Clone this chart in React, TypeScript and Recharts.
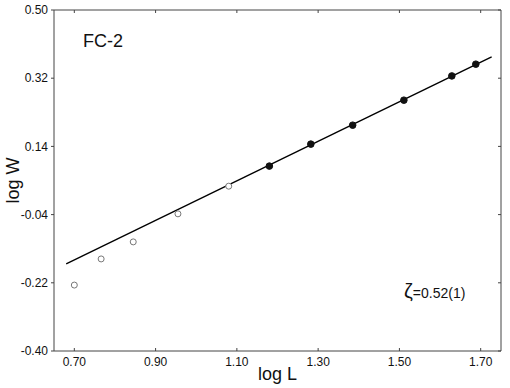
import { ScatterChart, Scatter, XAxis, YAxis } from 'recharts';

// open circles (small system sizes, excluded from fit)
const openLogL = [0.70, 0.766, 0.845, 0.955, 1.08];
const openLogW = [-0.226, -0.157, -0.112, -0.038, 0.035];

// filled circles (used for fit)
const fitLogL = [1.18, 1.282, 1.385, 1.511, 1.629, 1.688];
const fitLogW = [0.088, 0.146, 0.196, 0.262, 0.326, 0.357];

// fitted line endpoints, slope zeta = 0.52
const lineLogL = [0.68, 1.727];
const lineLogW = [-0.170, 0.376];

const xTicks = [0.70, 0.90, 1.10, 1.30, 1.50, 1.70];
const yTicks = [-0.40, -0.22, -0.04, 0.14, 0.32, 0.50];

const openData = openLogL.map((x, i) => ({ x, y: openLogW[i] }));
const fitData = fitLogL.map((x, i) => ({ x, y: fitLogW[i] }));
const lineData = lineLogL.map((x, i) => ({ x, y: lineLogW[i] }));

const font = '"Liberation Sans", Arial, Helvetica, sans-serif';
const axisColor = '#444';
const fmt = (v: number) => v.toFixed(2);
const blank = () => '';

const OpenDot = (props: any) => (
  <circle cx={props.cx} cy={props.cy} r={3} fill="#fff" stroke="#777" strokeWidth={1} />
);
const FilledDot = (props: any) => (
  <circle cx={props.cx} cy={props.cy} r={3.3} fill="#111" stroke="#111" />
);

export default function App() {
  return (
    <div style={{ position: 'absolute', left: 0, top: 0, width: 510, height: 388, background: '#fff', fontFamily: font }}>
      <ScatterChart width={510} height={388} margin={{ top: 10, right: 9, bottom: 7, left: 14 }}>
        <XAxis
          xAxisId="b"
          dataKey="x"
          type="number"
          domain={[0.65, 1.75]}
          ticks={xTicks}
          tickFormatter={fmt}
          height={30}
          tickLine={false}
          tickSize={3}
          tickMargin={3}
          stroke={axisColor}
          tick={{ fontSize: 12, fill: '#111', fontFamily: font }}
          label={{ value: 'log L', position: 'insideBottom', offset: 1, style: { fontSize: 18, fill: '#111', fontFamily: font } }}
        />
        <XAxis
          xAxisId="bIn"
          dataKey="x"
          type="number"
          orientation="bottom"
          mirror
          domain={[0.65, 1.75]}
          ticks={xTicks}
          tickFormatter={blank}
          axisLine={false}
          tickSize={3}
          stroke={axisColor}
        />
        <XAxis
          xAxisId="t"
          dataKey="x"
          type="number"
          orientation="top"
          mirror
          domain={[0.65, 1.75]}
          ticks={xTicks}
          tickFormatter={blank}
          tickSize={3}
          stroke={axisColor}
        />
        <YAxis
          yAxisId="l"
          dataKey="y"
          type="number"
          domain={[-0.4, 0.5]}
          ticks={yTicks}
          tickFormatter={fmt}
          width={40}
          tickSize={3}
          tickMargin={3}
          stroke={axisColor}
          tick={{ fontSize: 12, fill: '#111', fontFamily: font }}
          label={{ value: 'log W', angle: -90, position: 'insideLeft', offset: 0, dx: -1, style: { fontSize: 18, fill: '#111', fontFamily: font, textAnchor: 'middle' } }}
        />
        <YAxis
          yAxisId="r"
          dataKey="y"
          type="number"
          orientation="right"
          mirror
          domain={[-0.4, 0.5]}
          ticks={yTicks}
          tickFormatter={blank}
          tickSize={3}
          stroke={axisColor}
        />
        <Scatter
          xAxisId="t"
          yAxisId="r"
          data={lineData}
          line={{ stroke: '#000', strokeWidth: 1.4 }}
          shape={() => null}
          isAnimationActive={false}
        />
        <Scatter xAxisId="b" yAxisId="l" data={openData} shape={OpenDot} isAnimationActive={false} />
        <Scatter xAxisId="bIn" yAxisId="l" data={fitData} shape={FilledDot} isAnimationActive={false} />
      </ScatterChart>
      <div style={{ position: 'absolute', left: 83, top: 31, fontSize: 18, lineHeight: '20px', color: '#111' }}>FC-2</div>
      <div style={{ position: 'absolute', left: 404, top: 281, lineHeight: '20px', color: '#111', whiteSpace: 'nowrap' }}>
        <span style={{ fontSize: 20 }}>ζ</span>
        <span style={{ fontSize: 14 }}>=0.52(1)</span>
      </div>
    </div>
  );
}
